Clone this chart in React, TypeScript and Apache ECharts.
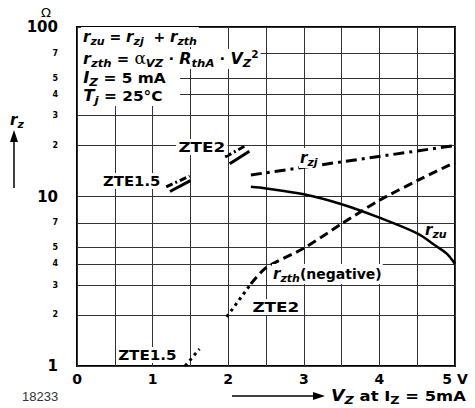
import React, { useEffect, useRef } from "react";
import * as echarts from "echarts";

const xTicks = [0, 1, 2, 3, 4, 5];
const yGridValues = [1, 2, 3, 4, 5, 7, 10, 20, 30, 40, 50, 70, 100];
const yMajor = [1, 10, 100];

const rzj = [[2.3, 13.4], [5, 20]];
const rzu = [[2.3, 11.4], [2.5, 11.15], [3, 10.3], [3.5, 9.0], [4, 7.5], [4.5, 6.06], [4.75, 5.1], [4.89, 4.6], [5, 4.0]];
const rzth = [[2.3, 3.05], [2.5, 3.8], [3, 4.95], [3.5, 6.9], [4, 9.5], [4.5, 12.4], [5, 15.9]];
const zte2Dot = [[1.98, 1.95], [2.3, 3.05]];
const zte15Dot = [[1.43, 1.0], [1.62, 1.26]];
const zte2MarkDashDot = [[1.96, 17.1], [2.25, 20.2]];
const zte2MarkSolid = [[2.02, 15.6], [2.28, 18.5]];
const zte15MarkDashDot = [[1.18, 11.4], [1.49, 13.2]];
const zte15MarkSolid = [[1.23, 10.7], [1.5, 12.4]];

const FONT = "DejaVu Sans";

const rich: any = {
  i: { fontFamily: FONT, fontStyle: "italic", fontWeight: "bold", fontSize: 15, lineHeight: 20, fill: "#000" },
  s: { fontFamily: FONT, fontStyle: "italic", fontWeight: "bold", fontSize: 11, lineHeight: 10, verticalAlign: "bottom", fill: "#000" },
  sz: { fontFamily: FONT, fontWeight: "bold", fontSize: 11, lineHeight: 10, verticalAlign: "bottom", fill: "#000" },
  sup: { fontFamily: FONT, fontWeight: "bold", fontSize: 10, lineHeight: 10, verticalAlign: "top", fill: "#000" },
  n: { fontFamily: FONT, fontWeight: "bold", fontSize: 14, lineHeight: 20, fill: "#000" },
  g: { fontFamily: "DejaVu Serif", fontSize: 16, lineHeight: 20, fill: "#000" },
};

function txt(text: string, x: number, y: number, extra: any = {}, scaleX = 1) {
  return {
    type: "text",
    z: 100,
    x,
    y,
    scaleX,
    style: {
      text,
      rich,
      fill: "#000",
      fontFamily: FONT,
      fontWeight: "bold",
      fontSize: 14,
      verticalAlign: "middle",
      backgroundColor: "#fff",
      padding: [0, 2],
      ...extra,
    },
  };
}

function plain(text: string, x: number, y: number, scaleX = 1) {
  return {
    type: "text",
    z: 100,
    x,
    y,
    scaleX,
    style: {
      text,
      fill: "#000",
      fontFamily: FONT,
      fontWeight: "bold",
      fontSize: 14,
      verticalAlign: "middle",
      backgroundColor: "#fff",
      padding: [1, 2],
    },
  };
}

export default function App() {
  const ref = useRef<HTMLDivElement>(null);
  useEffect(() => {
    if (!ref.current) return;
    const chart = echarts.init(ref.current, null, { renderer: "svg" });
    const lineS = (name: string, data: number[][], type: any, width: number, smooth: any = false) => ({
      name,
      type: "line",
      data,
      symbol: "none",
      smooth,
      z: 5,
      lineStyle: { color: "#000", width, type, cap: "butt" },
    });
    chart.setOption({
      animation: false,
      backgroundColor: "#fff",
      grid: { left: 77, right: 20, top: 27, bottom: 42, show: true, borderColor: "#000", borderWidth: 2, backgroundColor: "transparent" },
      xAxis: {
        type: "value",
        min: 0,
        max: 5,
        interval: 0.5,
        axisLine: { show: false },
        axisTick: { show: false },
        splitLine: { show: true, lineStyle: { color: "#333", width: 1 } },
        axisLabel: {
          margin: 6,
          fontFamily: FONT,
          fontWeight: "bold",
          fontSize: 14,
          color: "#000",
          formatter: (v: number) => (v === 5 ? "5 V" : xTicks.includes(v) ? String(v) : ""),
        },
      },
      yAxis: {
        type: "log",
        logBase: 10,
        min: 1,
        max: 100,
        axisLine: { show: false },
        axisTick: { show: false, customValues: yGridValues },
        splitLine: { show: true, lineStyle: { color: "#333", width: 1 } },
        axisLabel: {
          customValues: yGridValues,
          margin: 19,
          color: "#000",
          formatter: (v: number) => {
            const r = Math.round(v);
            if (yMajor.includes(r)) return "{big|" + r + "}";
            const lead = Math.round(r / Math.pow(10, Math.floor(Math.log10(r) + 1e-9)));
            return "{small|" + lead + "}";
          },
          rich: {
            big: { fontFamily: FONT, fontWeight: "bold", fontSize: 15, color: "#000" },
            small: { fontFamily: FONT, fontWeight: "bold", fontSize: 8, color: "#000" },
          },
        },
      },
      series: [
        lineS("rzj", rzj, [11, 5, 3, 5], 3),
        lineS("rzu", rzu, "solid", 2.5, 0.35),
        lineS("rzth", rzth, [9, 5], 3, 0.25),
        lineS("zte2dot", zte2Dot, [3, 4], 3),
        lineS("zte15dot", zte15Dot, [3, 4], 3),
        lineS("zte2dd", zte2MarkDashDot, [7, 3, 2, 3], 3),
        lineS("zte2s", zte2MarkSolid, "solid", 3),
        lineS("zte15dd", zte15MarkDashDot, [7, 3, 2, 3], 3),
        lineS("zte15s", zte15MarkSolid, "solid", 3),
      ],
      graphic: [
        { type: "rect", z: 99, shape: { x: 78, y: 28, width: 102, height: 78 }, style: { fill: "#fff" } },
        txt("{i|r}{s|zu}{n| = }{i|r}{s|zj}{n|  + }{i|r}{s|zth}", 81, 37),
        txt("{i|r}{s|zth}{n| = }{g|α}{s|VZ}{n| · }{i|R}{s|thA}{n| · }{i|V}{s|Z}{sup|2}", 81, 59, {}, 1.06),
        txt("{i|I}{s|Z}{n| = 5 mA}", 81, 78, {}, 1.1),
        txt("{i|T}{s|j}{n| = 25°C}", 81, 96, {}, 1.1),
        plain("ZTE2", 176, 147, 1.2),
        plain("ZTE1.5", 101, 181, 1.06),
        plain("ZTE2", 250, 307, 1.2),
        plain("ZTE1.5", 116, 355, 1.08),
        txt("{i|r}{s|zj}", 299, 158, { padding: [0, 1] }),
        txt("{i|r}{s|zu}", 424, 230, { padding: [0, 1], backgroundColor: "transparent" }),
        txt("{i|r}{s|zth}{n|(negative)}", 272, 274, { padding: [0, 1] }),
        { type: "text", z: 100, x: 46, y: 12, style: { text: "Ω", fontFamily: FONT, fontSize: 13, fill: "#000", align: "center", verticalAlign: "middle" } },
        txt("{i|r}{s|z}", 8, 120, { backgroundColor: "transparent" }),
        { type: "line", z: 100, shape: { x1: 14, y1: 140, x2: 14, y2: 188 }, style: { stroke: "#000", lineWidth: 1.5 } },
        { type: "polygon", z: 100, shape: { points: [[14, 130], [10, 142], [18, 142]] }, style: { fill: "#000" } },
        { type: "line", z: 100, shape: { x1: 232, y1: 396, x2: 314, y2: 396 }, style: { stroke: "#000", lineWidth: 1.5 } },
        { type: "polygon", z: 100, shape: { points: [[325, 396], [313, 392], [313, 400]] }, style: { fill: "#000" } },
        txt("{i|V}{s|Z}{n| at I}{sz|Z}{n| = 5mA}", 331, 396, { backgroundColor: "transparent", padding: 0 }, 1.17),
        { type: "text", z: 100, x: 22, y: 396, style: { text: "18233", fontFamily: "Liberation Sans", fontSize: 13, fill: "#333", verticalAlign: "middle" } },
      ],
    });
    return () => chart.dispose();
  }, []);
  return <div ref={ref} style={{ position: "fixed", left: 0, top: 0, width: 475, height: 408 }} />;
}
